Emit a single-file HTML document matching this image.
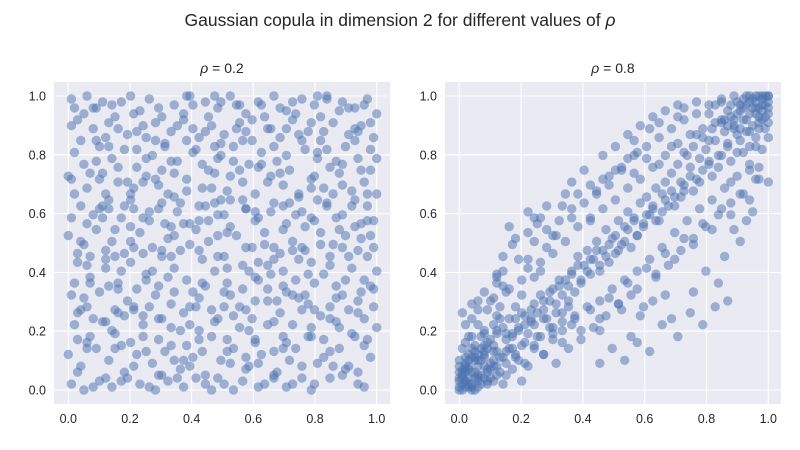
<!DOCTYPE html>
<html><head><meta charset="utf-8"><style>
body{margin:0;background:#fff;}
svg{display:block;font-family:"Liberation Sans",sans-serif;}
</style></head><body>
<svg id="fig" width="800" height="450" viewBox="0 0 800 450">
<text x="400" y="26" text-anchor="middle" font-size="17.5" fill="#262626">Gaussian copula in dimension 2 for different values of <tspan font-style="italic">ρ</tspan></text>
</svg>
<script>
// Scatter values on a 0-99 scale (divided by 99): flat [x,y,x,y,...]
const lowPairs=[1,98,6,99,9,95,13,90,17,97,21,93,26,98,30,92,34,96,39,99,44,97,48,95,52,99,57,93,61,97,66,99,70,94,75,98,79,96,83,99,88,97,92,95,96,98,99,93,
3,91,8,88,12,85,15,92,19,86,24,89,28,84,33,87,37,91,42,85,46,89,50,86,55,90,59,84,64,88,68,85,72,91,77,87,81,84,85,90,90,86,94,89,98,85,
2,80,5,76,10,82,14,78,18,81,22,75,27,79,31,82,35,77,40,80,45,74,49,79,53,82,58,76,62,80,67,77,71,74,76,81,80,78,84,75,89,82,93,78,97,81,
1,71,6,68,11,73,16,70,20,66,25,72,29,69,34,65,38,71,43,68,47,73,51,67,56,70,60,66,65,72,69,69,74,65,78,71,82,68,87,73,91,67,95,70,99,66,
4,62,8,59,13,64,17,58,21,61,26,57,30,63,35,60,39,56,44,62,48,59,52,55,57,61,61,58,66,63,70,56,75,60,79,57,83,63,88,59,92,55,96,62,
0,52,5,49,9,54,14,50,18,46,23,53,27,48,32,51,36,47,41,54,45,50,50,45,54,52,59,48,63,53,68,46,72,50,76,47,81,53,85,49,90,45,94,51,98,48,
3,43,7,38,12,41,16,36,20,43,25,39,29,35,34,41,38,37,43,44,47,40,51,36,56,42,60,38,64,34,69,40,73,37,78,43,82,39,86,35,91,41,95,37,99,40,
1,32,6,28,10,33,15,27,19,30,24,25,28,32,33,29,37,26,42,31,46,27,50,33,55,28,59,24,64,30,68,26,72,32,77,29,81,25,86,31,90,27,94,33,98,28,
2,22,7,18,11,23,15,19,20,16,24,22,29,17,33,21,38,15,42,20,47,23,51,17,55,21,60,16,64,22,69,18,73,14,78,21,82,17,86,23,91,19,95,15,99,21,
0,12,4,8,9,14,13,10,18,6,22,12,27,9,31,13,36,7,40,11,44,5,49,10,53,14,58,8,62,12,67,6,71,10,75,4,80,9,84,13,89,7,93,2,97,11,
1,2,5,0,10,3,14,1,19,4,23,2,28,0,32,3,37,1,41,4,46,0,50,2,56,3,61,1,66,4,72,2,78,0,
2,95,11,97,20,99,29,95,37,93,47,99,55,96,63,92,72,97,80,99,87,94,95,96,
4,84,13,82,22,87,31,83,40,88,49,83,57,87,66,82,74,86,83,81,92,88,
7,73,16,75,25,78,34,73,43,76,52,72,61,75,70,79,79,72,88,76,97,74,
2,66,11,62,20,64,29,61,38,67,47,63,56,64,65,60,74,66,83,62,92,64,
6,56,15,54,24,58,33,55,42,57,51,53,60,57,69,54,78,58,87,54,96,57,
3,46,12,44,21,48,30,45,39,49,48,45,57,48,66,44,75,48,84,45,93,47,
7,36,16,34,25,37,34,33,43,36,52,32,61,37,70,33,79,36,88,32,97,35,
3,26,12,23,21,27,30,24,39,28,48,24,57,27,66,23,75,27,84,24,93,26,
6,16,15,14,24,18,33,15,42,17,51,13,60,17,69,14,78,18,87,14,96,17,
3,6,12,4,21,8,30,5,39,8,48,4,57,7,66,5,75,8,84,4,93,6,
8,1,17,3,26,1,35,4,44,2,53,0,63,2,70,1,79,2,88,5,95,1,
1,89,5,93,9,77,13,61,17,40,21,28,25,13,29,5,33,45,37,56,41,81,45,92,49,64,53,25,57,11,61,43,65,88,69,35,73,59,77,18,81,92,85,66,89,52,93,30,97,90,
0,72,4,50,8,24,12,47,16,88,20,55,24,70,28,90,32,66,36,20,40,96,44,35,48,78,52,9,56,84,60,30,64,70,68,95,72,22,76,55,80,64,84,42,88,69,92,84,96,45,
2,36,6,14,10,61,14,96,18,25,22,34,26,60,30,47,34,10,38,84,42,62,46,18,50,59,54,96,58,40,62,76,66,13,70,88,74,31,78,90,82,11,86,58,90,8,94,74,98,57,
3,17,7,45,11,58,15,45,19,70,23,94,27,40,31,56,35,89,39,22,43,13,47,82,51,41,55,74,59,91,63,49,67,30,71,63,75,84,79,27,83,98,87,21,91,62,95,24,99,78,
1,58,5,31,9,84,13,35,17,15,21,68,25,85,29,24,33,77,37,10,41,28,45,57,49,97,53,77,57,61,61,9,65,39,69,62,73,93,77,39,81,49,85,8,89,37,93,87,97,52,
6,42,10,71,14,20,18,62,22,81,26,28,30,74,34,52,38,99,42,47,46,68,50,28,54,88,58,20,62,96,66,48,70,16,74,44,78,68,82,87,86,77,90,95,94,56,98,34,
4,27,8,95,12,66,16,26,20,50,24,46,28,71,32,38,36,63,40,33,44,87,48,52,52,64,56,34,60,60,64,42,68,73,72,47,76,32,80,80,84,28,88,48,92,18,96,66];
const highPairs=[0,0,1,2,2,1,3,4,1,5,4,2,5,0,2,3,6,5,3,7,0,3,7,2,4,6,8,8,2,9,6,3,9,6,5,10,1,7,10,4,3,12,8,11,11,8,7,14,12,13,4,1,6,1,9,2,2,6,0,8,11,3,
13,6,5,15,10,17,14,11,1,14,12,20,15,9,8,19,16,14,3,18,17,18,18,11,13,24,19,21,6,22,16,24,20,15,9,27,21,25,4,29,22,19,18,28,23,27,11,31,24,22,14,35,
25,26,20,32,26,18,27,30,15,33,28,24,24,38,29,33,30,21,12,39,31,29,22,41,32,35,26,43,33,26,19,44,34,37,35,30,28,48,36,40,37,33,17,49,38,45,39,36,
40,42,31,52,41,47,42,39,25,56,43,44,44,50,45,40,36,58,46,47,47,54,48,43,33,62,49,51,50,46,38,66,51,57,52,49,22,53,53,55,54,60,55,48,42,69,56,58,
57,52,58,63,46,71,59,56,60,65,61,59,50,74,62,61,63,68,64,57,54,78,65,66,66,70,67,62,57,80,68,73,69,65,70,76,56,84,71,70,72,67,73,79,61,88,74,75,
75,82,76,71,77,78,78,85,64,90,79,81,80,76,81,88,70,92,82,84,83,79,84,90,72,95,85,87,86,83,87,92,76,97,88,89,89,86,90,94,91,91,92,96,93,93,94,89,
95,97,96,95,97,98,98,96,99,99,97,94,99,97,96,99,94,98,98,92,92,99,95,95,99,90,93,97,97,91,91,98,90,96,88,99,98,99,99,95,96,92,86,94,93,87,
95,93,89,93,97,96,100,100,94,95,92,91,87,96,90,88,85,91,99,93,84,97,96,90,91,95,97,100,93,99,88,91,82,96,95,99,98,88,89,97,80,93,86,89,
8,4,10,9,12,5,14,2,15,13,17,7,19,10,20,3,3,10,5,13,7,18,9,16,11,22,4,24,2,16,13,28,6,30,16,34,12,36,8,33,1,26,
22,8,24,14,27,12,30,17,31,9,33,20,35,14,37,24,39,17,41,28,43,21,45,30,47,25,49,34,51,29,53,37,55,32,57,40,59,28,61,44,63,38,65,48,
67,42,69,53,71,47,73,57,75,51,77,61,79,55,81,64,83,59,85,68,87,63,89,72,91,66,93,76,95,71,97,81,99,85,96,75,
20,37,22,44,24,50,26,40,28,54,30,46,32,57,34,50,36,61,38,55,40,63,42,58,44,67,46,61,48,72,50,64,52,74,54,68,56,79,58,71,60,82,
62,75,64,85,66,79,68,88,70,83,72,91,74,86,76,93,78,88,80,96,82,90,84,98,
10,30,12,25,14,40,8,20,6,27,4,18,2,22,
3,1,6,4,9,3,12,8,15,5,18,12,21,9,24,15,27,12,30,19,33,16,36,22,39,20,42,27,45,24,48,31,51,29,54,36,57,34,60,41,63,39,66,46,69,44,72,51,75,49,78,56,81,54,84,61,
87,59,90,66,93,64,96,71,99,70,
6,10,9,14,12,19,15,17,18,24,21,22,24,29,27,27,30,34,33,32,36,39,39,37,42,44,45,42,48,49,51,47,54,54,57,52,60,59,63,57,66,64,69,62,72,69,75,67,78,74,81,72,84,79,87,77,90,84,93,82,96,88,
2,7,5,11,8,15,11,13,14,21,17,19,20,26,23,24,26,32,29,30,32,37,35,35,38,42,41,40,44,47,47,45,50,52,53,50,56,57,59,55,62,62,65,60,68,67,71,65,74,72,77,70,80,77,83,75,86,82,89,80,92,87,95,85,
1,4,3,8,5,6,7,10,0,6,2,11,4,14,6,8,8,12,10,7,11,15,13,11,15,19,17,14,19,20,21,16,23,23,25,18,27,24,29,21,31,26,33,23,35,28,37,25,
45,20,52,27,55,18,58,25,62,30,66,32,68,24,75,33,79,40,83,36,85,45,90,50,92,57,
44,66,48,69,52,75,56,73,60,78,64,76,68,82,72,80,76,86,80,84,84,91,88,88,
26,58,28,62,30,52,34,66,36,70,40,74,42,57,46,79,50,82,54,86,58,89,62,92,66,94,70,96,
14,45,16,55,18,51,22,60,24,58,12,38,
45,9,49,14,53,10,57,16,61,13,65,22,70,18,74,26,78,22,82,28,86,30,
94,60,88,54,87,70,93,74,91,80,95,82,
0,1,1,0,2,3,0,4,3,2,4,0,1,6,5,4,2,8,7,5,0,10,9,7,4,11,6,12,11,10,8,13];
const tickValues=[0,0.2,0.4,0.6,0.8,1.0];
const tickLabels=["0.0","0.2","0.4","0.6","0.8","1.0"];
</script>
<script>
(function(){
const svgNS="http://www.w3.org/2000/svg";
const fig=document.getElementById('fig');
const panels=[
 {pairs:lowPairs,title:"0.2",left:54,right:390,x0:68.3,x1:376.7,name:'rho-0-2'},
 {pairs:highPairs,title:"0.8",left:445,right:781,x0:459.3,x1:768.3,name:'rho-0-8'}
];
const plotTop=82,plotBottom=404,y0=390,y1=96;
function mk(tag,attrs,parent){const e=document.createElementNS(svgNS,tag);for(const k in attrs)e.setAttribute(k,attrs[k]);(parent||fig).appendChild(e);return e;}
panels.forEach(p=>{
 const xs=v=>p.x0+(v)*(p.x1-p.x0);
 const ys=v=>y0+(v)*(y1-y0);
 const g=mk('g',{});
 
 
 const bg=mk('rect',{x:p.left,y:plotTop,width:p.right-p.left,height:plotBottom-plotTop,fill:'#eaeaf2'},g);
 
 
 tickValues.forEach((t,i)=>{
  const vx=mk('line',{x1:xs(t),x2:xs(t),y1:plotTop,y2:plotBottom,stroke:'#fff','stroke-width':1.1},g);
  
  
  const hy=mk('line',{x1:p.left,x2:p.right,y1:ys(t),y2:ys(t),stroke:'#fff','stroke-width':1.1},g);
  
  
  const tx=mk('text',{x:xs(t),y:plotBottom+19,'text-anchor':'middle','font-size':12.5,fill:'#262626'},g);
  tx.textContent=tickLabels[i];
  
  
  const ty=mk('text',{x:p.left-8,y:ys(t)+4.5,'text-anchor':'end','font-size':12.5,fill:'#262626'},g);
  ty.textContent=tickLabels[i];
  
  
 });
 const pts=mk('g',{fill:'#4c72b0','fill-opacity':0.5},g);
 
 
 for(let i=0;i+1<p.pairs.length;i+=2){
  const vx=Math.min(p.pairs[i],99)/99, vy=Math.min(p.pairs[i+1],99)/99;
  const c=mk('circle',{cx:xs(vx).toFixed(1),cy:ys(vy).toFixed(1),r:4.7},pts);
  
  
 }
 const tt=mk('text',{x:(p.left+p.right)/2,y:73,'text-anchor':'middle','font-size':14,fill:'#262626'},g);
 const it=mk('tspan',{'font-style':'italic'},tt);
 it.textContent='ρ';
 const rest=mk('tspan',{},tt);
 rest.textContent=' = '+p.title;
 
 
});
})();
</script>
</body></html>
